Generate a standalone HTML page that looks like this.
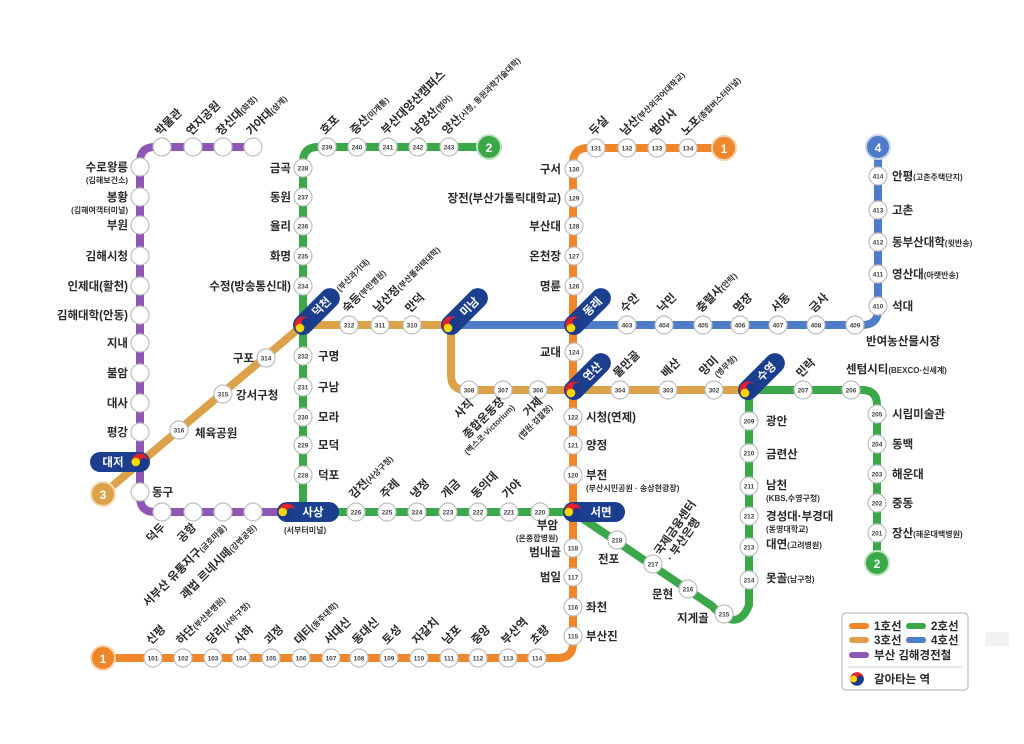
<!DOCTYPE html>
<html><head><meta charset="utf-8">
<style>
html,body{margin:0;padding:0;background:#fff;}
svg{display:block;font-family:"Liberation Sans","Noto Sans CJK KR",sans-serif;}
.s{fill:#fff;stroke:#bdbdbd;stroke-width:1.2}
.n{font-size:6.5px;text-anchor:middle;font-weight:bold;fill:#444}
.l{font-size:11.5px;font-weight:bold;fill:#2a2a2a}
.e{text-anchor:end}
.sm{font-size:8px;font-weight:bold;fill:#333}
.w{fill:#fff;font-size:11.5px;font-weight:bold;text-anchor:middle}
.ln{fill:none;stroke-width:8;stroke-linecap:round;stroke-linejoin:round}
</style></head><body>
<svg width="1024" height="744" viewBox="0 0 1024 744" xmlns="http://www.w3.org/2000/svg">
<defs>
<g id="tg"><circle r="8.5" fill="#1b3a8c"/><path d="M-8.5,0 A8.5,8.5 0 0 1 8.5,0 Z" fill="#e3202b"/><circle cx="-4.2" cy="0" r="4.3" fill="#f6d800"/><circle cx="4.2" cy="0" r="4.3" fill="#1b3a8c"/></g>
<circle id="c" r="9" class="s"/>
</defs>

<path class="ln" stroke="#8f57b3" d="M253,147 H155 Q140,147 140,162 V497 Q140,512 155,512 H290"/>
<path class="ln" stroke="#3aa848" d="M489,147 H318 Q303,147 303,162 V512"/>
<path class="ln" stroke="#3aa848" d="M290,512 H573 L712,606 Q738,634 749,605 V390 H862 Q877,390 877,405 V563"/>
<path class="ln" stroke="#dba24a" d="M103,494 L303,325 H451 V375 Q451,390 466,390 H748"/>
<path class="ln" stroke="#4f7cc8" d="M451,325 H862 Q878,325 878,310 V147"/>
<path class="ln" stroke="#f0862a" d="M103,658 H558 Q573,658 573,643 V163 Q573,148 588,148 H724"/>

<g font-size="12" font-weight="bold" text-anchor="middle">
<circle cx="489" cy="147" r="12" fill="#3aa848" stroke="#bfe3c3" stroke-width="2"/><text x="489" y="152" fill="#fff">2</text>
<circle cx="724" cy="148" r="12" fill="#f0862a" stroke="#fbd3ad" stroke-width="2"/><text x="724" y="153" fill="#fff">1</text>
<circle cx="878" cy="147" r="12" fill="#4f7cc8" stroke="#c6d5f0" stroke-width="2"/><text x="878" y="152" fill="#fff">4</text>
<circle cx="103" cy="494" r="12" fill="#dba24a" stroke="#f2dcb5" stroke-width="2"/><text x="103" y="499" fill="#fff">3</text>
<circle cx="103" cy="658" r="12" fill="#f0862a" stroke="#fbd3ad" stroke-width="2"/><text x="103" y="663" fill="#fff">1</text>
<circle cx="877" cy="563" r="12" fill="#3aa848" stroke="#bfe3c3" stroke-width="2"/><text x="877" y="568" fill="#fff">2</text>
</g>

<use href="#c" x="162" y="147"/><use href="#c" x="193" y="147"/><use href="#c" x="223" y="147"/><use href="#c" x="253" y="147"/>
<use href="#c" x="140" y="167"/><use href="#c" x="140" y="197"/><use href="#c" x="140" y="225"/><use href="#c" x="140" y="256"/><use href="#c" x="140" y="286"/><use href="#c" x="140" y="315"/><use href="#c" x="140" y="343"/><use href="#c" x="140" y="373"/><use href="#c" x="140" y="403"/><use href="#c" x="140" y="432"/><use href="#c" x="140" y="492"/>
<use href="#c" x="162" y="512"/><use href="#c" x="193" y="512"/><use href="#c" x="223" y="512"/><use href="#c" x="253" y="512"/>

<g>
<use href="#c" x="327" y="147"/><text class="n" x="327" y="149.5">239</text>
<use href="#c" x="357" y="147"/><text class="n" x="357" y="149.5">240</text>
<use href="#c" x="388" y="147"/><text class="n" x="388" y="149.5">241</text>
<use href="#c" x="418" y="147"/><text class="n" x="418" y="149.5">242</text>
<use href="#c" x="449" y="147"/><text class="n" x="449" y="149.5">243</text>
<use href="#c" x="303" y="168"/><text class="n" x="303" y="170.5">238</text>
<use href="#c" x="303" y="197"/><text class="n" x="303" y="199.5">237</text>
<use href="#c" x="303" y="226"/><text class="n" x="303" y="228.5">236</text>
<use href="#c" x="303" y="256"/><text class="n" x="303" y="258.5">235</text>
<use href="#c" x="303" y="286"/><text class="n" x="303" y="288.5">234</text>
<use href="#c" x="303" y="356"/><text class="n" x="303" y="358.5">232</text>
<use href="#c" x="303" y="387"/><text class="n" x="303" y="389.5">231</text>
<use href="#c" x="303" y="417"/><text class="n" x="303" y="419.5">230</text>
<use href="#c" x="303" y="445"/><text class="n" x="303" y="447.5">229</text>
<use href="#c" x="303" y="475"/><text class="n" x="303" y="477.5">228</text>
<use href="#c" x="356" y="512"/><text class="n" x="356" y="514.5">226</text>
<use href="#c" x="387" y="512"/><text class="n" x="387" y="514.5">225</text>
<use href="#c" x="417" y="512"/><text class="n" x="417" y="514.5">224</text>
<use href="#c" x="448" y="512"/><text class="n" x="448" y="514.5">223</text>
<use href="#c" x="478" y="512"/><text class="n" x="478" y="514.5">222</text>
<use href="#c" x="509" y="512"/><text class="n" x="509" y="514.5">221</text>
<use href="#c" x="540" y="512"/><text class="n" x="540" y="514.5">220</text>
<use href="#c" x="617" y="540"/><text class="n" x="617" y="542.5">218</text>
<use href="#c" x="653" y="564"/><text class="n" x="653" y="566.5">217</text>
<use href="#c" x="688" y="589"/><text class="n" x="688" y="591.5">216</text>
<use href="#c" x="724" y="614"/><text class="n" x="724" y="616.5">215</text>
<use href="#c" x="749" y="421"/><text class="n" x="749" y="423.5">209</text>
<use href="#c" x="749" y="453"/><text class="n" x="749" y="455.5">210</text>
<use href="#c" x="749" y="486"/><text class="n" x="749" y="488.5">211</text>
<use href="#c" x="749" y="516"/><text class="n" x="749" y="518.5">212</text>
<use href="#c" x="749" y="547"/><text class="n" x="749" y="549.5">213</text>
<use href="#c" x="749" y="580"/><text class="n" x="749" y="582.5">214</text>
<use href="#c" x="803" y="390"/><text class="n" x="803" y="392.5">207</text>
<use href="#c" x="851" y="390"/><text class="n" x="851" y="392.5">206</text>
<use href="#c" x="877" y="414"/><text class="n" x="877" y="416.5">205</text>
<use href="#c" x="877" y="444"/><text class="n" x="877" y="446.5">204</text>
<use href="#c" x="877" y="474"/><text class="n" x="877" y="476.5">203</text>
<use href="#c" x="877" y="503"/><text class="n" x="877" y="505.5">202</text>
<use href="#c" x="877" y="533"/><text class="n" x="877" y="535.5">201</text>
<use href="#c" x="179" y="430"/><text class="n" x="179" y="432.5">316</text>
<use href="#c" x="223" y="394"/><text class="n" x="223" y="396.5">315</text>
<use href="#c" x="266" y="358"/><text class="n" x="266" y="360.5">314</text>
<use href="#c" x="349" y="325"/><text class="n" x="349" y="327.5">312</text>
<use href="#c" x="380" y="325"/><text class="n" x="380" y="327.5">311</text>
<use href="#c" x="412" y="325"/><text class="n" x="412" y="327.5">310</text>
<use href="#c" x="469" y="390"/><text class="n" x="469" y="392.5">308</text>
<use href="#c" x="503" y="390"/><text class="n" x="503" y="392.5">307</text>
<use href="#c" x="538" y="390"/><text class="n" x="538" y="392.5">306</text>
<use href="#c" x="620" y="390"/><text class="n" x="620" y="392.5">304</text>
<use href="#c" x="668" y="390"/><text class="n" x="668" y="392.5">303</text>
<use href="#c" x="714" y="390"/><text class="n" x="714" y="392.5">302</text>
<use href="#c" x="627" y="325"/><text class="n" x="627" y="327.5">403</text>
<use href="#c" x="664" y="325"/><text class="n" x="664" y="327.5">404</text>
<use href="#c" x="703" y="325"/><text class="n" x="703" y="327.5">405</text>
<use href="#c" x="740" y="325"/><text class="n" x="740" y="327.5">406</text>
<use href="#c" x="778" y="325"/><text class="n" x="778" y="327.5">407</text>
<use href="#c" x="816" y="325"/><text class="n" x="816" y="327.5">408</text>
<use href="#c" x="855" y="325"/><text class="n" x="855" y="327.5">409</text>
<use href="#c" x="878" y="176"/><text class="n" x="878" y="178.5">414</text>
<use href="#c" x="878" y="210"/><text class="n" x="878" y="212.5">413</text>
<use href="#c" x="878" y="242"/><text class="n" x="878" y="244.5">412</text>
<use href="#c" x="878" y="274"/><text class="n" x="878" y="276.5">411</text>
<use href="#c" x="878" y="306"/><text class="n" x="878" y="308.5">410</text>
<use href="#c" x="596" y="148"/><text class="n" x="596" y="150.5">131</text>
<use href="#c" x="627" y="148"/><text class="n" x="627" y="150.5">132</text>
<use href="#c" x="657" y="148"/><text class="n" x="657" y="150.5">133</text>
<use href="#c" x="688" y="148"/><text class="n" x="688" y="150.5">134</text>
<use href="#c" x="574" y="169"/><text class="n" x="574" y="171.5">130</text>
<use href="#c" x="574" y="198"/><text class="n" x="574" y="200.5">129</text>
<use href="#c" x="574" y="226"/><text class="n" x="574" y="228.5">128</text>
<use href="#c" x="574" y="256"/><text class="n" x="574" y="258.5">127</text>
<use href="#c" x="574" y="286"/><text class="n" x="574" y="288.5">126</text>
<use href="#c" x="574" y="352"/><text class="n" x="574" y="354.5">124</text>
<use href="#c" x="573" y="417"/><text class="n" x="573" y="419.5">122</text>
<use href="#c" x="573" y="445"/><text class="n" x="573" y="447.5">121</text>
<use href="#c" x="573" y="475"/><text class="n" x="573" y="477.5">120</text>
<use href="#c" x="573" y="548"/><text class="n" x="573" y="550.5">118</text>
<use href="#c" x="573" y="577"/><text class="n" x="573" y="579.5">117</text>
<use href="#c" x="573" y="607"/><text class="n" x="573" y="609.5">116</text>
<use href="#c" x="573" y="636"/><text class="n" x="573" y="638.5">115</text>
<use href="#c" x="153" y="658"/><text class="n" x="153" y="660.5">101</text>
<use href="#c" x="183" y="658"/><text class="n" x="183" y="660.5">102</text>
<use href="#c" x="213" y="658"/><text class="n" x="213" y="660.5">103</text>
<use href="#c" x="241" y="658"/><text class="n" x="241" y="660.5">104</text>
<use href="#c" x="271" y="658"/><text class="n" x="271" y="660.5">105</text>
<use href="#c" x="301" y="658"/><text class="n" x="301" y="660.5">106</text>
<use href="#c" x="331" y="658"/><text class="n" x="331" y="660.5">107</text>
<use href="#c" x="359" y="658"/><text class="n" x="359" y="660.5">108</text>
<use href="#c" x="389" y="658"/><text class="n" x="389" y="660.5">109</text>
<use href="#c" x="419" y="658"/><text class="n" x="419" y="660.5">110</text>
<use href="#c" x="449" y="658"/><text class="n" x="449" y="660.5">111</text>
<use href="#c" x="478" y="658"/><text class="n" x="478" y="660.5">112</text>
<use href="#c" x="508" y="658"/><text class="n" x="508" y="660.5">113</text>
<use href="#c" x="537" y="658"/><text class="n" x="537" y="660.5">114</text>
</g>

<g transform="translate(303,325) rotate(-45)"><rect x="-10" y="-10" width="58" height="20" rx="10" fill="#1b3f8e"/><text class="w" x="26" y="4">덕천</text><use href="#tg"/></g>
<g transform="translate(451,325) rotate(-45)"><rect x="-10" y="-10" width="58" height="20" rx="10" fill="#1b3f8e"/><text class="w" x="26" y="4">미남</text><use href="#tg"/></g>
<g transform="translate(574,325) rotate(-45)"><rect x="-10" y="-10" width="58" height="20" rx="10" fill="#1b3f8e"/><text class="w" x="26" y="4">동래</text><use href="#tg"/></g>
<g transform="translate(574,390) rotate(-45)"><rect x="-10" y="-10" width="58" height="20" rx="10" fill="#1b3f8e"/><text class="w" x="26" y="4">연산</text><use href="#tg"/></g>
<g transform="translate(748,390) rotate(-45)"><rect x="-10" y="-10" width="58" height="20" rx="10" fill="#1b3f8e"/><text class="w" x="26" y="4">수영</text><use href="#tg"/></g>
<g transform="translate(140,462)"><rect x="-50" y="-10" width="60" height="20" rx="10" fill="#1b3f8e"/><text class="w" x="-27" y="4">대저</text><use href="#tg"/></g>
<g transform="translate(287,512)"><rect x="-10" y="-10" width="62" height="20" rx="10" fill="#1b3f8e"/><text class="w" x="26" y="4">사상</text><use href="#tg"/></g>
<g transform="translate(573,512)"><rect x="-10" y="-10" width="62" height="20" rx="10" fill="#1b3f8e"/><text class="w" x="28" y="4">서면</text><use href="#tg"/></g>

<g class="l">
<text class="e" x="128" y="171">수로왕릉</text><text class="sm e" x="128" y="183">(김해보건소)</text>
<text class="e" x="128" y="201">봉황</text><text class="sm e" x="128" y="213">(김해여객터미널)</text>
<text class="e" x="128" y="229">부원</text><text class="e" x="128" y="260">김해시청</text>
<text class="e" x="128" y="290">인제대(활천)</text><text class="e" x="128" y="319">김해대학(안동)</text>
<text class="e" x="128" y="347">지내</text><text class="e" x="128" y="377">불암</text>
<text class="e" x="128" y="407">대사</text><text class="e" x="128" y="436">평강</text>
<text x="152" y="496">동구</text>
<text class="e" x="291" y="172">금곡</text><text class="e" x="291" y="201">동원</text>
<text class="e" x="291" y="230">율리</text><text class="e" x="291" y="260">화명</text>
<text class="e" x="291" y="290">수정(방송통신대)</text>
<text x="318" y="360">구명</text><text x="318" y="391">구남</text><text x="318" y="421">모라</text><text x="318" y="449">모덕</text><text x="318" y="479">덕포</text>
<text class="e" x="254" y="362">구포</text><text x="236" y="399">강서구청</text><text x="195" y="437">체육공원</text>
<text class="sm" x="284" y="533">(서부터미널)</text>
<text class="e" x="561" y="173">구서</text><text class="e" x="561" y="202">장전(부산가톨릭대학교)</text>
<text class="e" x="561" y="230">부산대</text><text class="e" x="561" y="260">온천장</text>
<text class="e" x="561" y="290">명륜</text><text class="e" x="561" y="356">교대</text>
<text x="586" y="421">시청(연제)</text><text x="586" y="449">양정</text>
<text x="586" y="479">부전</text><text class="sm" x="586" y="491">(부산시민공원 · 송상현광장)</text>
<text class="e" x="558" y="529">부암</text><text class="sm e" x="558" y="541">(온종합병원)</text>
<text class="e" x="561" y="556">범내골</text><text class="e" x="561" y="581">범일</text>
<text x="586" y="611">좌천</text><text x="586" y="640">부산진</text>
<text x="598" y="563">전포</text><text x="652" y="598">문현</text><text x="677" y="622">지게골</text>
<text x="766" y="425">광안</text><text x="766" y="458">금련산</text>
<text x="766" y="489">남천</text><text class="sm" x="766" y="501">(KBS,수영구청)</text>
<text x="766" y="520">경성대·부경대</text><text class="sm" x="766" y="532">(동명대학교)</text>
<text x="766" y="548">대연<tspan class="sm">(고려병원)</tspan></text>
<text x="766" y="582">못골<tspan class="sm">(남구청)</tspan></text>
<text x="846" y="373">센텀시티<tspan class="sm">(BEXCO·신세계)</tspan></text>
<text x="892" y="418">시립미술관</text><text x="892" y="448">동백</text><text x="892" y="478">해운대</text><text x="892" y="507">중동</text>
<text x="892" y="537">장산<tspan class="sm">(해운대백병원)</tspan></text>
<text x="892" y="180">안평<tspan class="sm">(고촌주택단지)</tspan></text>
<text x="892" y="214">고촌</text>
<text x="892" y="246">동부산대학<tspan class="sm">(윗반송)</tspan></text>
<text x="892" y="278">영산대<tspan class="sm">(아랫반송)</tspan></text>
<text x="892" y="310">석대</text>
<text x="866" y="345">반여농산물시장</text>
</g>

<g class="l">
<text transform="translate(160,136) rotate(-45)">박물관</text>
<text transform="translate(191,136) rotate(-45)">연지공원</text>
<text transform="translate(221,136) rotate(-45)">장신대<tspan class="sm">(화정)</tspan></text>
<text transform="translate(251,136) rotate(-45)">가야대<tspan class="sm">(삼계)</tspan></text>
<text transform="translate(325,135) rotate(-45)">호포</text>
<text transform="translate(355,135) rotate(-45)">증산<tspan class="sm" fill="#3c74d0">(미개통)</tspan></text>
<text transform="translate(386,135) rotate(-45)">부산대양산캠퍼스</text>
<text transform="translate(416,135) rotate(-45)">남양산<tspan class="sm">(범어)</tspan></text>
<text transform="translate(447,135) rotate(-45)">양산<tspan class="sm">(시청, 동원과학기술대학)</tspan></text>
<text class="sm" transform="translate(340,292) rotate(-45)">(부산과기대)</text>
<text transform="translate(347,313) rotate(-45)">숙등<tspan class="sm">(부민병원)</tspan></text>
<text transform="translate(378,313) rotate(-45)">남산정<tspan class="sm">(부산폴리텍대학)</tspan></text>
<text transform="translate(410,313) rotate(-45)">만덕</text>
<text transform="translate(594,136) rotate(-45)">두실</text>
<text transform="translate(625,136) rotate(-45)">남산<tspan class="sm">(부산외국어대학교)</tspan></text>
<text transform="translate(655,136) rotate(-45)">범어사</text>
<text transform="translate(686,136) rotate(-45)">노포<tspan class="sm">(종합버스터미널)</tspan></text>
<text transform="translate(625,313) rotate(-45)">수안</text>
<text transform="translate(662,313) rotate(-45)">낙민</text>
<text transform="translate(701,313) rotate(-45)">충렬사<tspan class="sm">(안락)</tspan></text>
<text transform="translate(738,313) rotate(-45)">명장</text>
<text transform="translate(776,313) rotate(-45)">서동</text>
<text transform="translate(814,313) rotate(-45)">금사</text>
<text transform="translate(618,378) rotate(-45)">물만골</text>
<text transform="translate(666,378) rotate(-45)">배산</text>
<text transform="translate(704,376) rotate(-45)">망미</text>
<text class="sm" transform="translate(718,378) rotate(-45)">(병무청)</text>
<text transform="translate(801,378) rotate(-45)">민락</text>
<text transform="translate(354,499) rotate(-45)">감전<tspan class="sm">(사상구청)</tspan></text>
<text transform="translate(385,499) rotate(-45)">주례</text>
<text transform="translate(415,499) rotate(-45)">냉정</text>
<text transform="translate(446,499) rotate(-45)">개금</text>
<text transform="translate(476,499) rotate(-45)">동의대</text>
<text transform="translate(507,499) rotate(-45)">가야</text>
<text transform="translate(151,645) rotate(-45)">신평</text>
<text transform="translate(181,645) rotate(-45)">하단<tspan class="sm">(부산본병원)</tspan></text>
<text transform="translate(211,645) rotate(-45)">당리<tspan class="sm">(사하구청)</tspan></text>
<text transform="translate(239,645) rotate(-45)">사하</text>
<text transform="translate(269,645) rotate(-45)">괴정</text>
<text transform="translate(299,645) rotate(-45)">대티<tspan class="sm">(동주대학)</tspan></text>
<text transform="translate(329,645) rotate(-45)">서대신</text>
<text transform="translate(357,645) rotate(-45)">동대신</text>
<text transform="translate(387,645) rotate(-45)">토성</text>
<text transform="translate(417,645) rotate(-45)">자갈치</text>
<text transform="translate(447,645) rotate(-45)">남포</text>
<text transform="translate(476,645) rotate(-45)">중앙</text>
<text transform="translate(506,645) rotate(-45)">부산역</text>
<text transform="translate(535,645) rotate(-45)">초량</text>
<text transform="translate(660,556) rotate(-55)">국제금융센터</text>
<text transform="translate(672,562) rotate(-55)">· 부산은행</text>
</g>

<g class="l e">
<text class="e" transform="translate(166,528) rotate(-45)">덕두</text>
<text class="e" transform="translate(197,528) rotate(-45)">공항</text>
<text class="e" transform="translate(227,528) rotate(-45)">서부산 유통지구<tspan class="sm">(금호마을)</tspan></text>
<text class="e" transform="translate(257,528) rotate(-45)">괘법 르네시떼<tspan class="sm">(강변공원)</tspan></text>
<text class="e" transform="translate(474,404) rotate(-45)">사직</text>
<text class="e" transform="translate(505,402) rotate(-45)">종합운동장</text>
<text class="sm e" transform="translate(515,408) rotate(-45)">(벡스코·Victorium)</text>
<text class="e" transform="translate(543,402) rotate(-45)">거제</text>
<text class="sm e" transform="translate(553,408) rotate(-45)">(법원·검찰청)</text>
</g>

<rect x="842" y="613" width="126" height="77" rx="4" fill="#fff" stroke="#c9c9cf" stroke-width="1.5"/>
<rect x="849" y="623" width="20" height="6" rx="3" fill="#f0862a"/><text class="l" x="874" y="630">1호선</text>
<rect x="906" y="623" width="20" height="6" rx="3" fill="#3aa848"/><text class="l" x="931" y="630">2호선</text>
<rect x="849" y="637" width="20" height="6" rx="3" fill="#dba24a"/><text class="l" x="874" y="644">3호선</text>
<rect x="906" y="637" width="20" height="6" rx="3" fill="#4f7cc8"/><text class="l" x="931" y="644">4호선</text>
<rect x="849" y="652" width="20" height="6" rx="3" fill="#8f57b3"/><text class="l" x="874" y="659">부산 김해경전철</text>
<line x1="848" y1="667" x2="962" y2="667" stroke="#d0d0d0"/>
<g transform="translate(857,679) scale(0.8)"><use href="#tg"/></g><text class="l" x="874" y="683">갈아타는 역</text>
<rect x="985" y="632" width="24" height="14" fill="#f2f2f2"/>
</svg>
</body></html>
